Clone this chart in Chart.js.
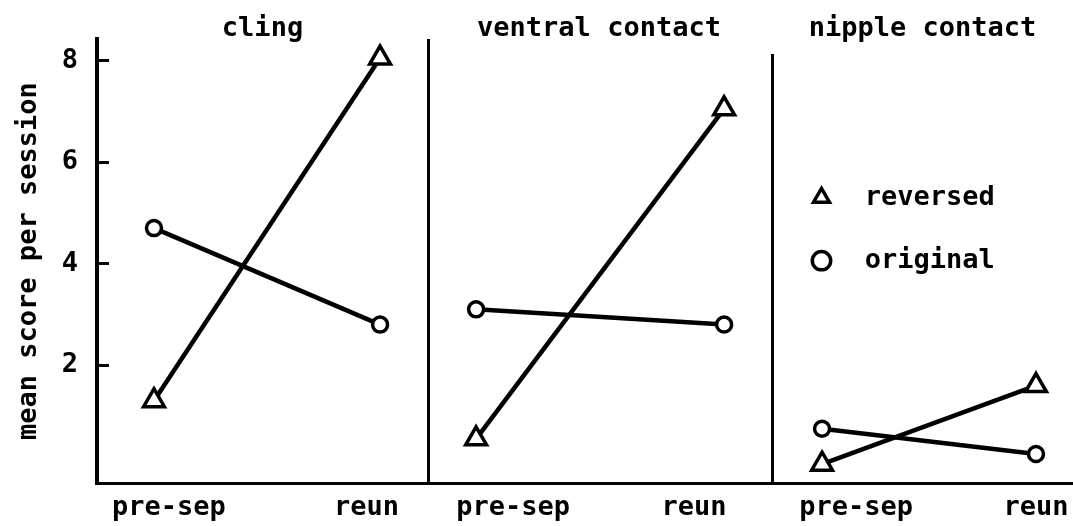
<!DOCTYPE html>
<html>
<head>
<meta charset="utf-8">
<script src="https://cdn.jsdelivr.net/npm/chart.js@4"></script>
<style>
  html, body { margin: 0; padding: 0; background: #fff; }
  #wrap { position: relative; width: 1073px; height: 526px; overflow: hidden; }
  .panel { position: absolute; top: 0; height: 526px; }
</style>
</head>
<body>
<div id="wrap">
  <div class="panel" style="left:0;width:430px"><canvas id="c0"></canvas></div>
  <div class="panel" style="left:426px;width:346px"><canvas id="c1"></canvas></div>
  <div class="panel" style="left:770px;width:303px"><canvas id="c2"></canvas></div>
</div>
<script>
// values: mean score per session
const phases = ['pre-sep', 'reun'];
const panels = ['cling', 'ventral contact', 'nipple contact'];
const reversed = [[1.3, 8.05], [0.55, 7.05], [0.05, 1.6]];
const original = [[4.7, 2.8], [3.1, 2.8], [0.75, 0.25]];
const yTicks = [2, 4, 6, 8];
const yMin = -0.32;

// where each panel sits and how its axes are cut
const frames = [
    {pad: {left: 0, right: 2}, axisW: 97, yMax: 8.42, xMin: -0.252, xMax: 1.212, tickAt: [0.066, 0.94], titleGap: 0},
    {pad: {left: 2, right: 2}, axisW: 0, yMax: 8.39, xMin: -0.194, xMax: 1.185, tickAt: [0.149, 0.879], titleGap: 1.5},
    {pad: {left: 2, right: 0}, axisW: 0, yMax: 8.10, xMin: -0.234, xMax: 1.173, tickAt: [0.159, 1.0], titleGap: 16.5}
];

Chart.defaults.font.family = "'DejaVu Sans Mono', monospace";
Chart.defaults.font.size = 27;
Chart.defaults.font.weight = 'bold';
Chart.defaults.color = '#000';

const toPoints = vals => vals.map((y, i) => ({x: i, y: y}));

const lineStyle = {
    borderColor: '#000',
    borderWidth: 4.5,
    tension: 0,
    pointBackgroundColor: '#fff',
    pointBorderColor: '#000',
    pointBorderWidth: 3.5
};

// labels sit outside the frame, so no extra room is needed
const noPadding = s => {
    s.paddingTop = 0;
    s.paddingBottom = 0;
    s.paddingLeft = 0;
    s.paddingRight = 0;
};

frames.forEach((f, p) => {
    const first = p === 0;
    const last = p === frames.length - 1;
    new Chart(document.getElementById('c' + p), {
        type: 'line',
        data: {
            datasets: [{
                ...lineStyle,
                label: 'reversed',
                data: toPoints(reversed[p]),
                pointStyle: 'triangle',
                pointRadius: 12
            }, {
                ...lineStyle,
                label: 'original',
                data: toPoints(original[p]),
                pointStyle: 'circle',
                pointRadius: 7.5
            }]
        },
        options: {
            responsive: true,
            maintainAspectRatio: false,
            animation: false,
            layout: {autoPadding: false, padding: {left: f.pad.left, right: f.pad.right, top: 19, bottom: 0}},
            plugins: {
                title: {
                    display: true,
                    text: panels[p],
                    fullSize: false,
                    font: {size: 27, lineHeight: 0.75},
                    padding: {top: 0, bottom: f.titleGap}
                },
                legend: last ? {
                    display: true,
                    position: 'chartArea',
                    align: 'center',
                    title: {display: true, text: '', padding: 0, font: {size: 27, lineHeight: 1.15}},
                    labels: {
                        usePointStyle: true,
                        boxWidth: 27,
                        boxHeight: 13,
                        padding: 36,
                        font: {size: 27},
                        generateLabels: chart => Chart.defaults.plugins.legend.labels.generateLabels(chart)
                            .map(it => ({...it, text: ' ' + it.text}))
                    }
                } : {display: false},
                tooltip: {enabled: false}
            },
            scales: {
                x: {
                    type: 'linear',
                    min: f.xMin,
                    max: f.xMax,
                    afterBuildTicks: s => { s.ticks = f.tickAt.map(v => ({value: v})); },
                    afterFit: s => { s.height = 43; noPadding(s); },
                    grid: {display: false, drawTicks: false},
                    border: {display: true, color: '#000', width: 3},
                    ticks: {padding: 9, maxRotation: 0, autoSkip: false, callback: (v, i) => phases[i]}
                },
                y: {
                    min: yMin,
                    max: f.yMax,
                    afterBuildTicks: s => { s.ticks = first ? yTicks.map(v => ({value: v})) : []; },
                    afterFit: s => { s.width = f.axisW; noPadding(s); },
                    grid: {display: first, drawOnChartArea: false, drawTicks: true, tickLength: -12, lineWidth: 3, color: '#000'},
                    border: {display: true, color: '#000', width: first ? 4 : 3},
                    ticks: {display: first, padding: 31},
                    title: {display: first, text: 'mean score per session', padding: {top: 13, bottom: 0}}
                }
            }
        }
    });
});
</script>
</body>
</html>
